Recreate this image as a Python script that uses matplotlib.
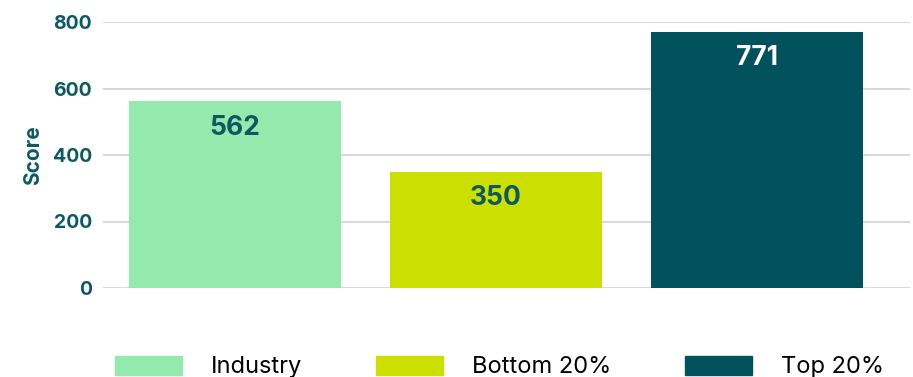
import matplotlib.pyplot as plt
from matplotlib.patches import Patch

# scores per group
groups = ["Industry", "Bottom 20%", "Top 20%"]
scores = [562, 350, 771]
bar_colors = ["#94EAAC", "#CBE000", "#02525E"]
label_colors = ["#0D5963", "#0D5963", "#FFFFFF"]
yticks = [0, 200, 400, 600, 800]

teal = "#0D5963"
plt.rcParams['font.family'] = ['Inter', 'DejaVu Sans']

fig = plt.figure(figsize=(9.13, 3.77), dpi=100)
ax = fig.add_axes([103 / 913, 1 - 288 / 377, 807 / 913, 266 / 377])

x = range(len(groups))
ax.bar(x, scores, width=0.812, color=bar_colors, zorder=2)

# value labels inside the top of each bar
for i, v in enumerate(scores):
    ax.annotate(str(v), (i, v), xytext=(0, -19), textcoords="offset points",
                ha="center", va="center", fontsize=19, fontweight="bold",
                color=label_colors[i], zorder=3)

ax.set_xlim(-0.506, 2.586)
ax.set_ylim(0, 800)
ax.set_yticks(yticks)
ax.set_yticklabels([str(t) for t in yticks], fontsize=14, fontweight="bold", color=teal)
ax.set_xticks([])
ax.tick_params(axis="y", length=0, pad=8)
ax.grid(axis="y", color="#D9D9D9", linewidth=1.5, zorder=0)
ax.set_axisbelow(True)
for s in ax.spines.values():
    s.set_visible(False)

ax.set_ylabel("Score", fontsize=15, fontweight="bold", color=teal, labelpad=7)

handles = [Patch(color=c, label=g) for g, c in zip(groups, bar_colors)]
fig.legend(handles=handles, loc="lower left", bbox_to_anchor=(94 / 913, -0.06),
           ncol=3, frameon=False, fontsize=17, handlelength=2.84, handleheight=0.85,
           handletextpad=1.2, columnspacing=3.15)

fig.savefig("out.png", dpi=100)
